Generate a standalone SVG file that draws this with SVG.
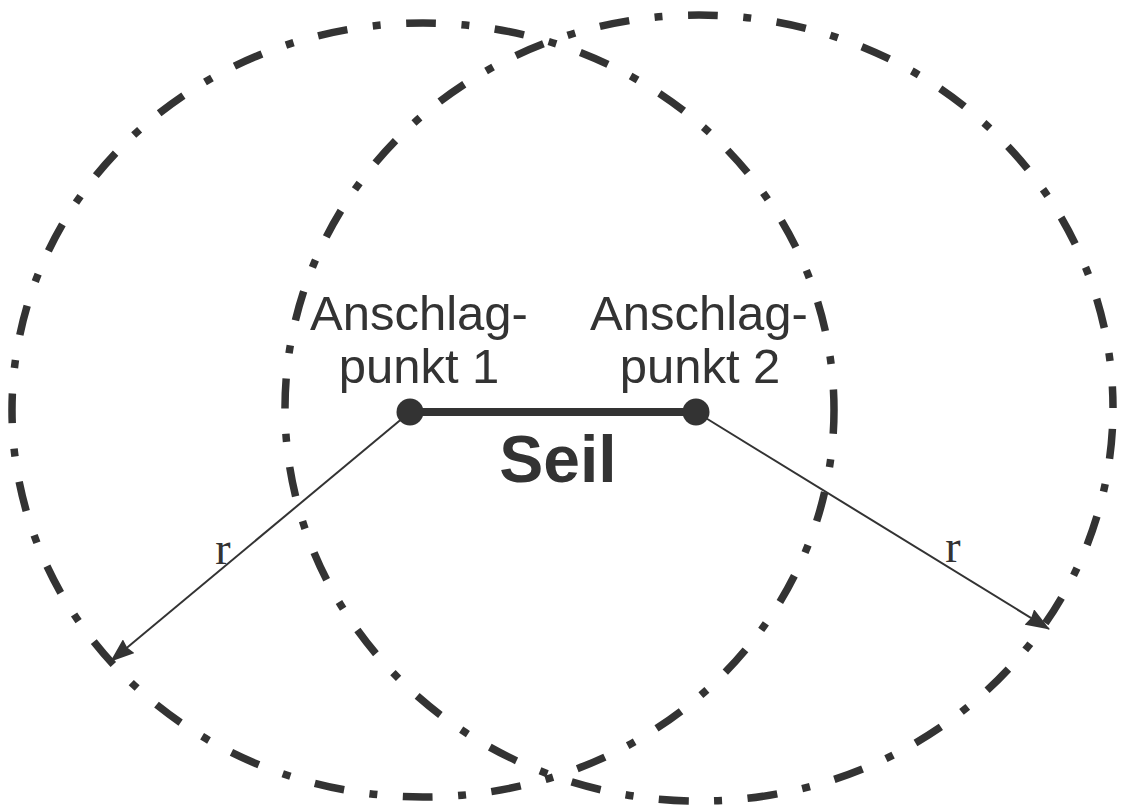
<svg xmlns="http://www.w3.org/2000/svg" width="1122" height="805" viewBox="0 0 1122 805">
<style>
  .orbit { fill: none; stroke: #333333; stroke-width: 7.5; stroke-dasharray: 30 25.5 8 25.5; }
  .label { font-family: "Liberation Sans", Arial, sans-serif; font-size: 49px; fill: #333333; text-anchor: middle; }
  .seil { font-family: "Liberation Sans", Arial, sans-serif; font-size: 66px; font-weight: bold; fill: #333333; text-anchor: middle; }
  .r { font-family: "Liberation Serif", "Times New Roman", serif; font-size: 46px; fill: #333333; text-anchor: middle; }
  .radius { stroke: #333333; stroke-width: 2; fill: none; }
</style>
<defs>
  <marker id="arrow" viewBox="0 0 24 18" refX="23" refY="9" markerWidth="24" markerHeight="18" markerUnits="userSpaceOnUse" orient="auto">
    <path d="M0,0 L24,9 L0,18 L2,9 Z" fill="#333333"/>
  </marker>
</defs>
<rect width="1122" height="805" fill="#ffffff"/>
<g id="range1">
  <ellipse class="orbit" cx="423" cy="410" rx="411" ry="387" stroke-dashoffset="6"/>
</g>
<g id="range2">
  <ellipse class="orbit" cx="699" cy="408" rx="414" ry="393" stroke-dashoffset="68"/>
</g>
<g id="connectors">
  <line id="seil-line" x1="410" y1="412" x2="696" y2="412" stroke="#333333" stroke-width="8"/>
  <line class="radius" x1="410" y1="412" x2="111" y2="661" marker-end="url(#arrow)"/>
  <line class="radius" x1="696" y1="412" x2="1049" y2="629" marker-end="url(#arrow)"/>
</g>
<g id="point1">
  <circle cx="410" cy="412" r="13.5" fill="#333333"/>
  <text class="label" x="419" y="330">Anschlag-</text>
  <text class="label" x="419" y="383">punkt 1</text>
</g>
<g id="point2">
  <circle cx="696" cy="412" r="13.5" fill="#333333"/>
  <text class="label" x="699" y="330">Anschlag-</text>
  <text class="label" x="700" y="383">punkt 2</text>
</g>
<g id="seil-label">
  <text class="seil" x="558" y="482">Seil</text>
</g>
<g id="r-labels">
  <text class="r" x="223" y="564">r</text>
  <text class="r" x="953" y="562">r</text>
</g>
</svg>
